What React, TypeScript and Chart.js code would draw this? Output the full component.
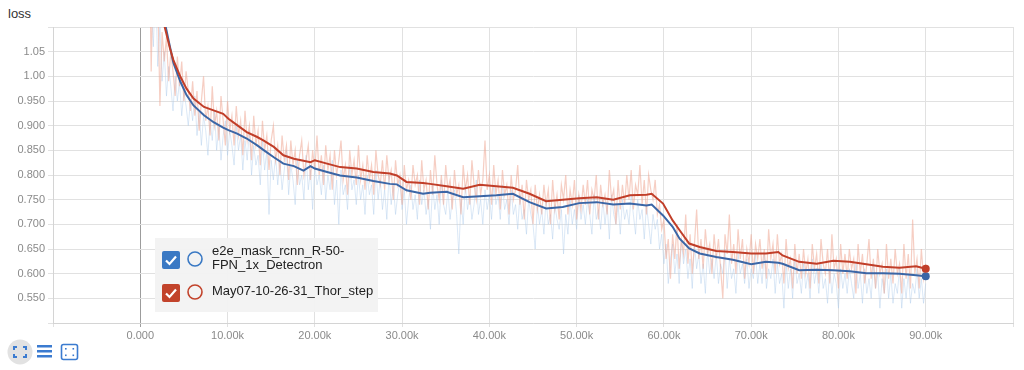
import React, { useEffect, useRef } from "react";
import { Chart, registerables } from "chart.js";

Chart.register(...registerables);

// ---- data ----
const seriesNames = ["e2e_mask_rcnn_R-50-FPN_1x_Detectron", "May07-10-26-31_Thor_step"];

const smoothSteps = [
  1000, 2000, 2800, 3400, 3800, 4600, 5300, 6100, 7300, 8400,
  9500, 10100, 11100, 12200, 13400, 14100, 15300, 16400, 17600, 18700,
  19500, 20000, 21400, 22900, 24800, 26700, 28600, 29400, 30500, 32400,
  33200, 35100, 37000, 38900, 40800, 42700, 44600, 46500, 48400, 50300,
  52300, 54200, 56100, 58000, 58600, 59900, 61000, 61800, 62900, 64100,
  66000, 67900, 70000, 71700, 73100, 73600, 75500, 77500, 79400, 81300,
  83200, 85100, 87000, 88900, 90000,
];

const redSmooth = [
  1.32, 1.18, 1.10, 1.057, 1.033, 0.999, 0.975, 0.955, 0.938, 0.931,
  0.924, 0.914, 0.901, 0.887, 0.877, 0.870, 0.857, 0.840, 0.833, 0.829,
  0.826, 0.830, 0.823, 0.816, 0.813, 0.806, 0.803, 0.799, 0.786, 0.784,
  0.782, 0.777, 0.772, 0.780, 0.777, 0.774, 0.762, 0.747, 0.750, 0.753,
  0.755, 0.750, 0.759, 0.760, 0.762, 0.742, 0.708, 0.688, 0.661, 0.654,
  0.646, 0.644, 0.641, 0.641, 0.644, 0.637, 0.624, 0.620, 0.626, 0.624,
  0.619, 0.614, 0.612, 0.615, 0.610,
];

const blueSmooth = [
  1.30, 1.17, 1.11, 1.060, 1.027, 0.989, 0.962, 0.941, 0.921, 0.907,
  0.896, 0.891, 0.884, 0.874, 0.860, 0.851, 0.836, 0.823, 0.818, 0.809,
  0.818, 0.813, 0.806, 0.799, 0.795, 0.788, 0.782, 0.781, 0.769, 0.762,
  0.764, 0.766, 0.755, 0.757, 0.759, 0.762, 0.745, 0.732, 0.735, 0.743,
  0.745, 0.740, 0.742, 0.738, 0.740, 0.718, 0.695, 0.671, 0.651, 0.641,
  0.634, 0.628, 0.619, 0.624, 0.622, 0.620, 0.607, 0.608, 0.607, 0.605,
  0.601, 0.601, 0.600, 0.597, 0.595,
];

// raw values logged every 250 steps from step 1000 to 90000
const rawStart = 1000;
const rawStride = 250;

const redRaw = [
  1.36, 1.01, 1.24, 1.12, 1.18, 0.94, 1.09, 1.03, 1.08, 0.99, 1.05, 1.01, 0.96, 1.04, 0.98, 1.03, 0.95, 1.01, 0.97, 0.93,
  0.99, 0.92, 0.97, 0.89, 0.95, 1.00, 0.91, 0.94, 0.88, 0.98, 0.90, 0.93, 0.87, 0.96, 0.91, 0.86, 0.95, 0.89, 0.92, 0.86,
  0.94, 0.88, 0.91, 0.84, 0.93, 0.87, 0.90, 0.83, 0.92, 0.86, 0.89, 0.82, 0.91, 0.85, 0.88, 0.81, 0.87, 0.90, 0.83, 0.86,
  0.80, 0.88, 0.83, 0.86, 0.79, 0.87, 0.82, 0.85, 0.78, 0.84, 0.87, 0.80, 0.83, 0.86, 0.79, 0.85, 0.81, 0.88, 0.80, 0.84,
  0.78, 0.86, 0.81, 0.84, 0.77, 0.85, 0.80, 0.83, 0.87, 0.79, 0.82, 0.76, 0.85, 0.80, 0.83, 0.78, 0.86, 0.79, 0.82, 0.77,
  0.84, 0.79, 0.82, 0.76, 0.85, 0.80, 0.78, 0.83, 0.77, 0.84, 0.79, 0.81, 0.75, 0.83, 0.78, 0.80, 0.74, 0.82, 0.77, 0.79,
  0.75, 0.82, 0.78, 0.80, 0.74, 0.83, 0.77, 0.79, 0.73, 0.81, 0.76, 0.84, 0.78, 0.75, 0.80, 0.74, 0.82, 0.77, 0.79, 0.73,
  0.81, 0.76, 0.78, 0.72, 0.82, 0.77, 0.80, 0.74, 0.83, 0.78, 0.75, 0.81, 0.76, 0.79, 0.87, 0.77, 0.80, 0.74, 0.82, 0.76,
  0.79, 0.73, 0.81, 0.76, 0.78, 0.72, 0.80, 0.75, 0.77, 0.82, 0.74, 0.78, 0.71, 0.79, 0.75, 0.77, 0.70, 0.78, 0.73, 0.76,
  0.72, 0.78, 0.74, 0.77, 0.70, 0.79, 0.73, 0.76, 0.71, 0.78, 0.75, 0.80, 0.72, 0.77, 0.74, 0.79, 0.71, 0.76, 0.73, 0.78,
  0.74, 0.79, 0.72, 0.77, 0.75, 0.80, 0.71, 0.78, 0.74, 0.76, 0.72, 0.81, 0.75, 0.77, 0.70, 0.79, 0.73, 0.78, 0.74, 0.80,
  0.75, 0.81, 0.73, 0.78, 0.76, 0.82, 0.74, 0.79, 0.72, 0.80, 0.77, 0.75, 0.79, 0.72, 0.74, 0.69, 0.71, 0.63, 0.67, 0.59,
  0.68, 0.63, 0.70, 0.61, 0.67, 0.64, 0.72, 0.62, 0.68, 0.60, 0.66, 0.73, 0.63, 0.67, 0.61, 0.69, 0.64, 0.66, 0.60, 0.68,
  0.63, 0.67, 0.61, 0.55, 0.68, 0.64, 0.72, 0.62, 0.66, 0.60, 0.69, 0.63, 0.67, 0.59, 0.65, 0.62, 0.68, 0.60, 0.66, 0.63,
  0.67, 0.61, 0.65, 0.59, 0.69, 0.63, 0.66, 0.60, 0.68, 0.62, 0.64, 0.58, 0.67, 0.61, 0.63, 0.57, 0.66, 0.60, 0.64, 0.59,
  0.65, 0.60, 0.63, 0.57, 0.66, 0.61, 0.64, 0.58, 0.67, 0.62, 0.60, 0.65, 0.58, 0.68, 0.61, 0.63, 0.57, 0.66, 0.60, 0.64,
  0.59, 0.65, 0.61, 0.63, 0.56, 0.66, 0.60, 0.64, 0.58, 0.62, 0.67, 0.59, 0.63, 0.57, 0.65, 0.60, 0.62, 0.56, 0.66, 0.59,
  0.63, 0.58, 0.65, 0.60, 0.62, 0.56, 0.66, 0.59, 0.64, 0.57, 0.71, 0.60, 0.63, 0.57, 0.65, 0.59, 0.62,
];

const blueRaw = [
  1.30, 1.15, 1.06, 1.20, 1.02, 1.10, 0.99, 1.05, 0.96, 1.02, 0.98, 0.93, 1.00, 0.95, 0.99, 0.92, 0.97, 0.94, 0.90, 0.95,
  0.91, 0.96, 0.88, 0.93, 0.86, 0.92, 0.89, 0.84, 0.91, 0.87, 0.93, 0.85, 0.90, 0.83, 0.88, 0.91, 0.84, 0.89, 0.86, 0.82,
  0.90, 0.85, 0.88, 0.81, 0.87, 0.83, 0.89, 0.80, 0.86, 0.82, 0.84, 0.78, 0.87, 0.81, 0.85, 0.72, 0.83, 0.79, 0.84, 0.78,
  0.83, 0.77, 0.81, 0.85, 0.76, 0.82, 0.79, 0.74, 0.83, 0.78, 0.80, 0.75, 0.84, 0.77, 0.81, 0.73, 0.82, 0.78, 0.80, 0.76,
  0.82, 0.75, 0.80, 0.77, 0.83, 0.74, 0.79, 0.70, 0.81, 0.76, 0.78, 0.73, 0.82, 0.77, 0.79, 0.74, 0.80, 0.75, 0.78, 0.72,
  0.80, 0.76, 0.78, 0.72, 0.81, 0.75, 0.79, 0.73, 0.77, 0.71, 0.80, 0.74, 0.78, 0.72, 0.76, 0.79, 0.73, 0.77, 0.70, 0.75,
  0.78, 0.73, 0.76, 0.71, 0.79, 0.74, 0.77, 0.72, 0.75, 0.69, 0.78, 0.73, 0.76, 0.70, 0.79, 0.74, 0.72, 0.77, 0.71, 0.75,
  0.77, 0.72, 0.64, 0.75, 0.70, 0.78, 0.73, 0.76, 0.71, 0.74, 0.79, 0.72, 0.75, 0.70, 0.77, 0.73, 0.76, 0.71, 0.78, 0.74,
  0.76, 0.71, 0.78, 0.73, 0.75, 0.70, 0.77, 0.72, 0.74, 0.69, 0.76, 0.71, 0.73, 0.68, 0.75, 0.72, 0.70, 0.65, 0.74, 0.70,
  0.73, 0.68, 0.75, 0.70, 0.72, 0.67, 0.74, 0.71, 0.69, 0.73, 0.64, 0.72, 0.68, 0.75, 0.70, 0.73, 0.69, 0.76, 0.71, 0.74,
  0.70, 0.75, 0.72, 0.68, 0.76, 0.71, 0.73, 0.69, 0.75, 0.70, 0.74, 0.67, 0.76, 0.72, 0.70, 0.74, 0.68, 0.75, 0.71, 0.73,
  0.70, 0.76, 0.72, 0.68, 0.75, 0.71, 0.73, 0.67, 0.74, 0.70, 0.66, 0.72, 0.69, 0.71, 0.65, 0.68, 0.62, 0.66, 0.58, 0.63,
  0.66, 0.60, 0.64, 0.58, 0.67, 0.62, 0.65, 0.59, 0.63, 0.57, 0.66, 0.61, 0.64, 0.58, 0.62, 0.56, 0.65, 0.60, 0.63, 0.59,
  0.64, 0.58, 0.62, 0.60, 0.65, 0.57, 0.63, 0.59, 0.61, 0.56, 0.64, 0.60, 0.62, 0.58, 0.63, 0.57, 0.61, 0.59, 0.64, 0.58,
  0.62, 0.58, 0.64, 0.57, 0.61, 0.59, 0.63, 0.56, 0.62, 0.58, 0.60, 0.53, 0.62, 0.57, 0.61, 0.55, 0.63, 0.58, 0.60, 0.56,
  0.62, 0.57, 0.60, 0.55, 0.63, 0.58, 0.61, 0.56, 0.62, 0.57, 0.59, 0.54, 0.61, 0.56, 0.60, 0.58, 0.53, 0.61, 0.57, 0.60,
  0.56, 0.61, 0.58, 0.55, 0.62, 0.57, 0.60, 0.54, 0.61, 0.56, 0.59, 0.55, 0.62, 0.57, 0.60, 0.53, 0.59, 0.56, 0.61, 0.55,
  0.60, 0.54, 0.58, 0.56, 0.61, 0.53, 0.59, 0.55, 0.60, 0.54, 0.58, 0.56, 0.61, 0.55, 0.59, 0.54, 0.58,
];

const xMin = -10000;
const xMax = 100000;
const xStep = 10000;
const yMin = 0.5;
const yMax = 1.1;
const yStep = 0.05;

// ---- styles ----
const BLUE = "#3b66a6";
const RED = "#c13e29";
const BLUE_RAW = "rgba(175,204,234,0.45)";
const RED_RAW = "rgba(238,165,145,0.55)";
const BLUE_UI = "#3a79c4";
const RED_UI = "#c2432b";
const FONT = "'Liberation Sans', Arial, sans-serif";

function toPoints(xs: number[], ys: number[]) {
  return ys.map((y, i) => ({ x: xs[i], y }));
}
function rawPoints(ys: number[]) {
  return ys.map((y, i) => ({ x: rawStart + i * rawStride, y }));
}

function ChartCanvas() {
  const ref = useRef<HTMLCanvasElement | null>(null);
  useEffect(() => {
    if (!ref.current) return;
    const lastIdx = smoothSteps.length - 1;
    const chart = new Chart(ref.current, {
      type: "line",
      data: {
        datasets: [
          {
            label: seriesNames[1] + " smoothed",
            data: toPoints(smoothSteps, redSmooth),
            borderColor: RED,
            backgroundColor: RED,
            borderWidth: 2,
            pointRadius: (c: any) => (c.dataIndex === lastIdx ? 4 : 0),
            pointBorderWidth: 0,
            tension: 0,
            order: 0,
          },
          {
            label: seriesNames[0] + " smoothed",
            data: toPoints(smoothSteps, blueSmooth),
            borderColor: BLUE,
            backgroundColor: BLUE,
            borderWidth: 2,
            pointRadius: (c: any) => (c.dataIndex === lastIdx ? 4 : 0),
            pointBorderWidth: 0,
            tension: 0,
            order: 1,
          },
          {
            label: seriesNames[1],
            data: rawPoints(redRaw),
            borderColor: RED_RAW,
            borderWidth: 1.2,
            pointRadius: 0,
            tension: 0,
            order: 2,
          },
          {
            label: seriesNames[0],
            data: rawPoints(blueRaw),
            borderColor: BLUE_RAW,
            borderWidth: 1,
            pointRadius: 0,
            tension: 0,
            order: 3,
          },
        ],
      },
      options: {
        animation: false,
        responsive: false,
        maintainAspectRatio: false,
        layout: { padding: { top: 27, right: 11, left: 0, bottom: 0 } },
        plugins: { legend: { display: false }, tooltip: { enabled: false } },
        scales: {
          x: {
            type: "linear",
            min: xMin,
            max: xMax,
            afterFit: (s: any) => {
              s.height = 22;
            },
            ticks: {
              stepSize: xStep,
              autoSkip: false,
              maxRotation: 0,
              padding: 2,
              color: "#8a8a8a",
              font: { family: FONT, size: 11 },
              callback: (v: any) => {
                const n = Number(v);
                if (n === 0) return "0.000";
                if (n < 0 || n > 90000) return "";
                return (n / 1000).toFixed(2) + "k";
              },
            },
            grid: {
              color: (c: any) => (c.tick && c.tick.value === 0 ? "#9c9c9c" : "#e1e1e1"),
              tickLength: 4,
              drawTicks: true,
            },
            border: { color: "#d4d4d4" },
          },
          y: {
            type: "linear",
            min: yMin,
            max: yMax,
            afterFit: (s: any) => {
              s.width = 53;
            },
            ticks: {
              stepSize: yStep,
              padding: 3,
              color: "#8a8a8a",
              font: { family: FONT, size: 11 },
              callback: (v: any, i: number, ticks: any[]) => {
                if (i === 0 || i === ticks.length - 1) return "";
                const n = Number(v);
                return n >= 0.995 ? n.toFixed(2) : n.toFixed(3);
              },
            },
            grid: { color: "#e1e1e1", tickLength: 5 },
            border: { color: "#d4d4d4" },
          },
        },
      },
    } as any);
    return () => chart.destroy();
  }, []);
  return (
    <canvas
      ref={ref}
      width={1024}
      height={345}
      style={{ position: "absolute", left: 0, top: 0, width: 1024, height: 345 }}
    />
  );
}

function Check({ color, top }: { color: string; top: number }) {
  return (
    <svg
      width={18}
      height={18}
      style={{ position: "absolute", left: 162, top }}
      viewBox="0 0 18 18"
    >
      <rect x={0} y={0} width={18} height={18} rx={2} fill={color} />
      <polyline points="4,9.5 7.5,13 14,5.5" fill="none" stroke="#fff" strokeWidth={2.2} />
    </svg>
  );
}

function Ring({ color, top }: { color: string; top: number }) {
  return (
    <svg width={18} height={18} style={{ position: "absolute", left: 186, top }} viewBox="0 0 18 18">
      <circle cx={9} cy={9} r={7} fill="none" stroke={color} strokeWidth={1.6} />
    </svg>
  );
}

export default function App() {
  useEffect(() => {
    document.body.style.margin = "0";
  }, []);
  return (
    <div
      style={{
        position: "absolute",
        left: 0,
        top: 0,
        width: 1024,
        height: 370,
        background: "#fff",
        overflow: "hidden",
        fontFamily: FONT,
      }}
    >
      <div style={{ position: "absolute", left: 8, top: 6, fontSize: 13, color: "#333" }}>loss</div>
      <ChartCanvas />
      <div
        style={{
          position: "absolute",
          left: 155,
          top: 238,
          width: 223,
          height: 74,
          background: "rgba(242,242,242,0.96)",
        }}
      />
      <Check color={BLUE_UI} top={251} />
      <Ring color={BLUE_UI} top={250} />
      <div
        style={{
          position: "absolute",
          left: 212,
          top: 244,
          fontSize: 13,
          lineHeight: "14px",
          color: "#222",
          whiteSpace: "nowrap",
        }}
      >
        e2e_mask_rcnn_R-50-
        <br />
        FPN_1x_Detectron
      </div>
      <Check color={RED_UI} top={284} />
      <Ring color={RED_UI} top={283} />
      <div
        style={{
          position: "absolute",
          left: 212,
          top: 283,
          fontSize: 13,
          lineHeight: "16px",
          color: "#222",
          whiteSpace: "nowrap",
        }}
      >
        May07-10-26-31_Thor_step
      </div>
      <svg width={90} height={30} style={{ position: "absolute", left: 0, top: 338 }} viewBox="0 0 90 30">
        <circle cx={20} cy={14} r={12.5} fill="#e2e2e2" />
        <g stroke="#3b7bd0" strokeWidth={2} fill="none">
          <polyline points="14,12 14,9 17,9" />
          <polyline points="23,9 26,9 26,12" />
          <polyline points="26,16 26,19 23,19" />
          <polyline points="17,19 14,19 14,16" />
        </g>
        <g fill="#3b7bd0">
          <rect x={37} y={7} width={15} height={2.5} />
          <rect x={37} y={12} width={15} height={2.5} />
          <rect x={37} y={17} width={15} height={2.5} />
        </g>
        <rect x={61.5} y={6.5} width={16} height={15} rx={2} fill="none" stroke="#3b7bd0" strokeWidth={1.6} />
        <g fill="#3b7bd0">
          <rect x={65} y={10} width={1.6} height={1.6} />
          <rect x={72.5} y={10} width={1.6} height={1.6} />
          <rect x={65} y={16.5} width={1.6} height={1.6} />
          <rect x={72.5} y={16.5} width={1.6} height={1.6} />
        </g>
      </svg>
    </div>
  );
}
